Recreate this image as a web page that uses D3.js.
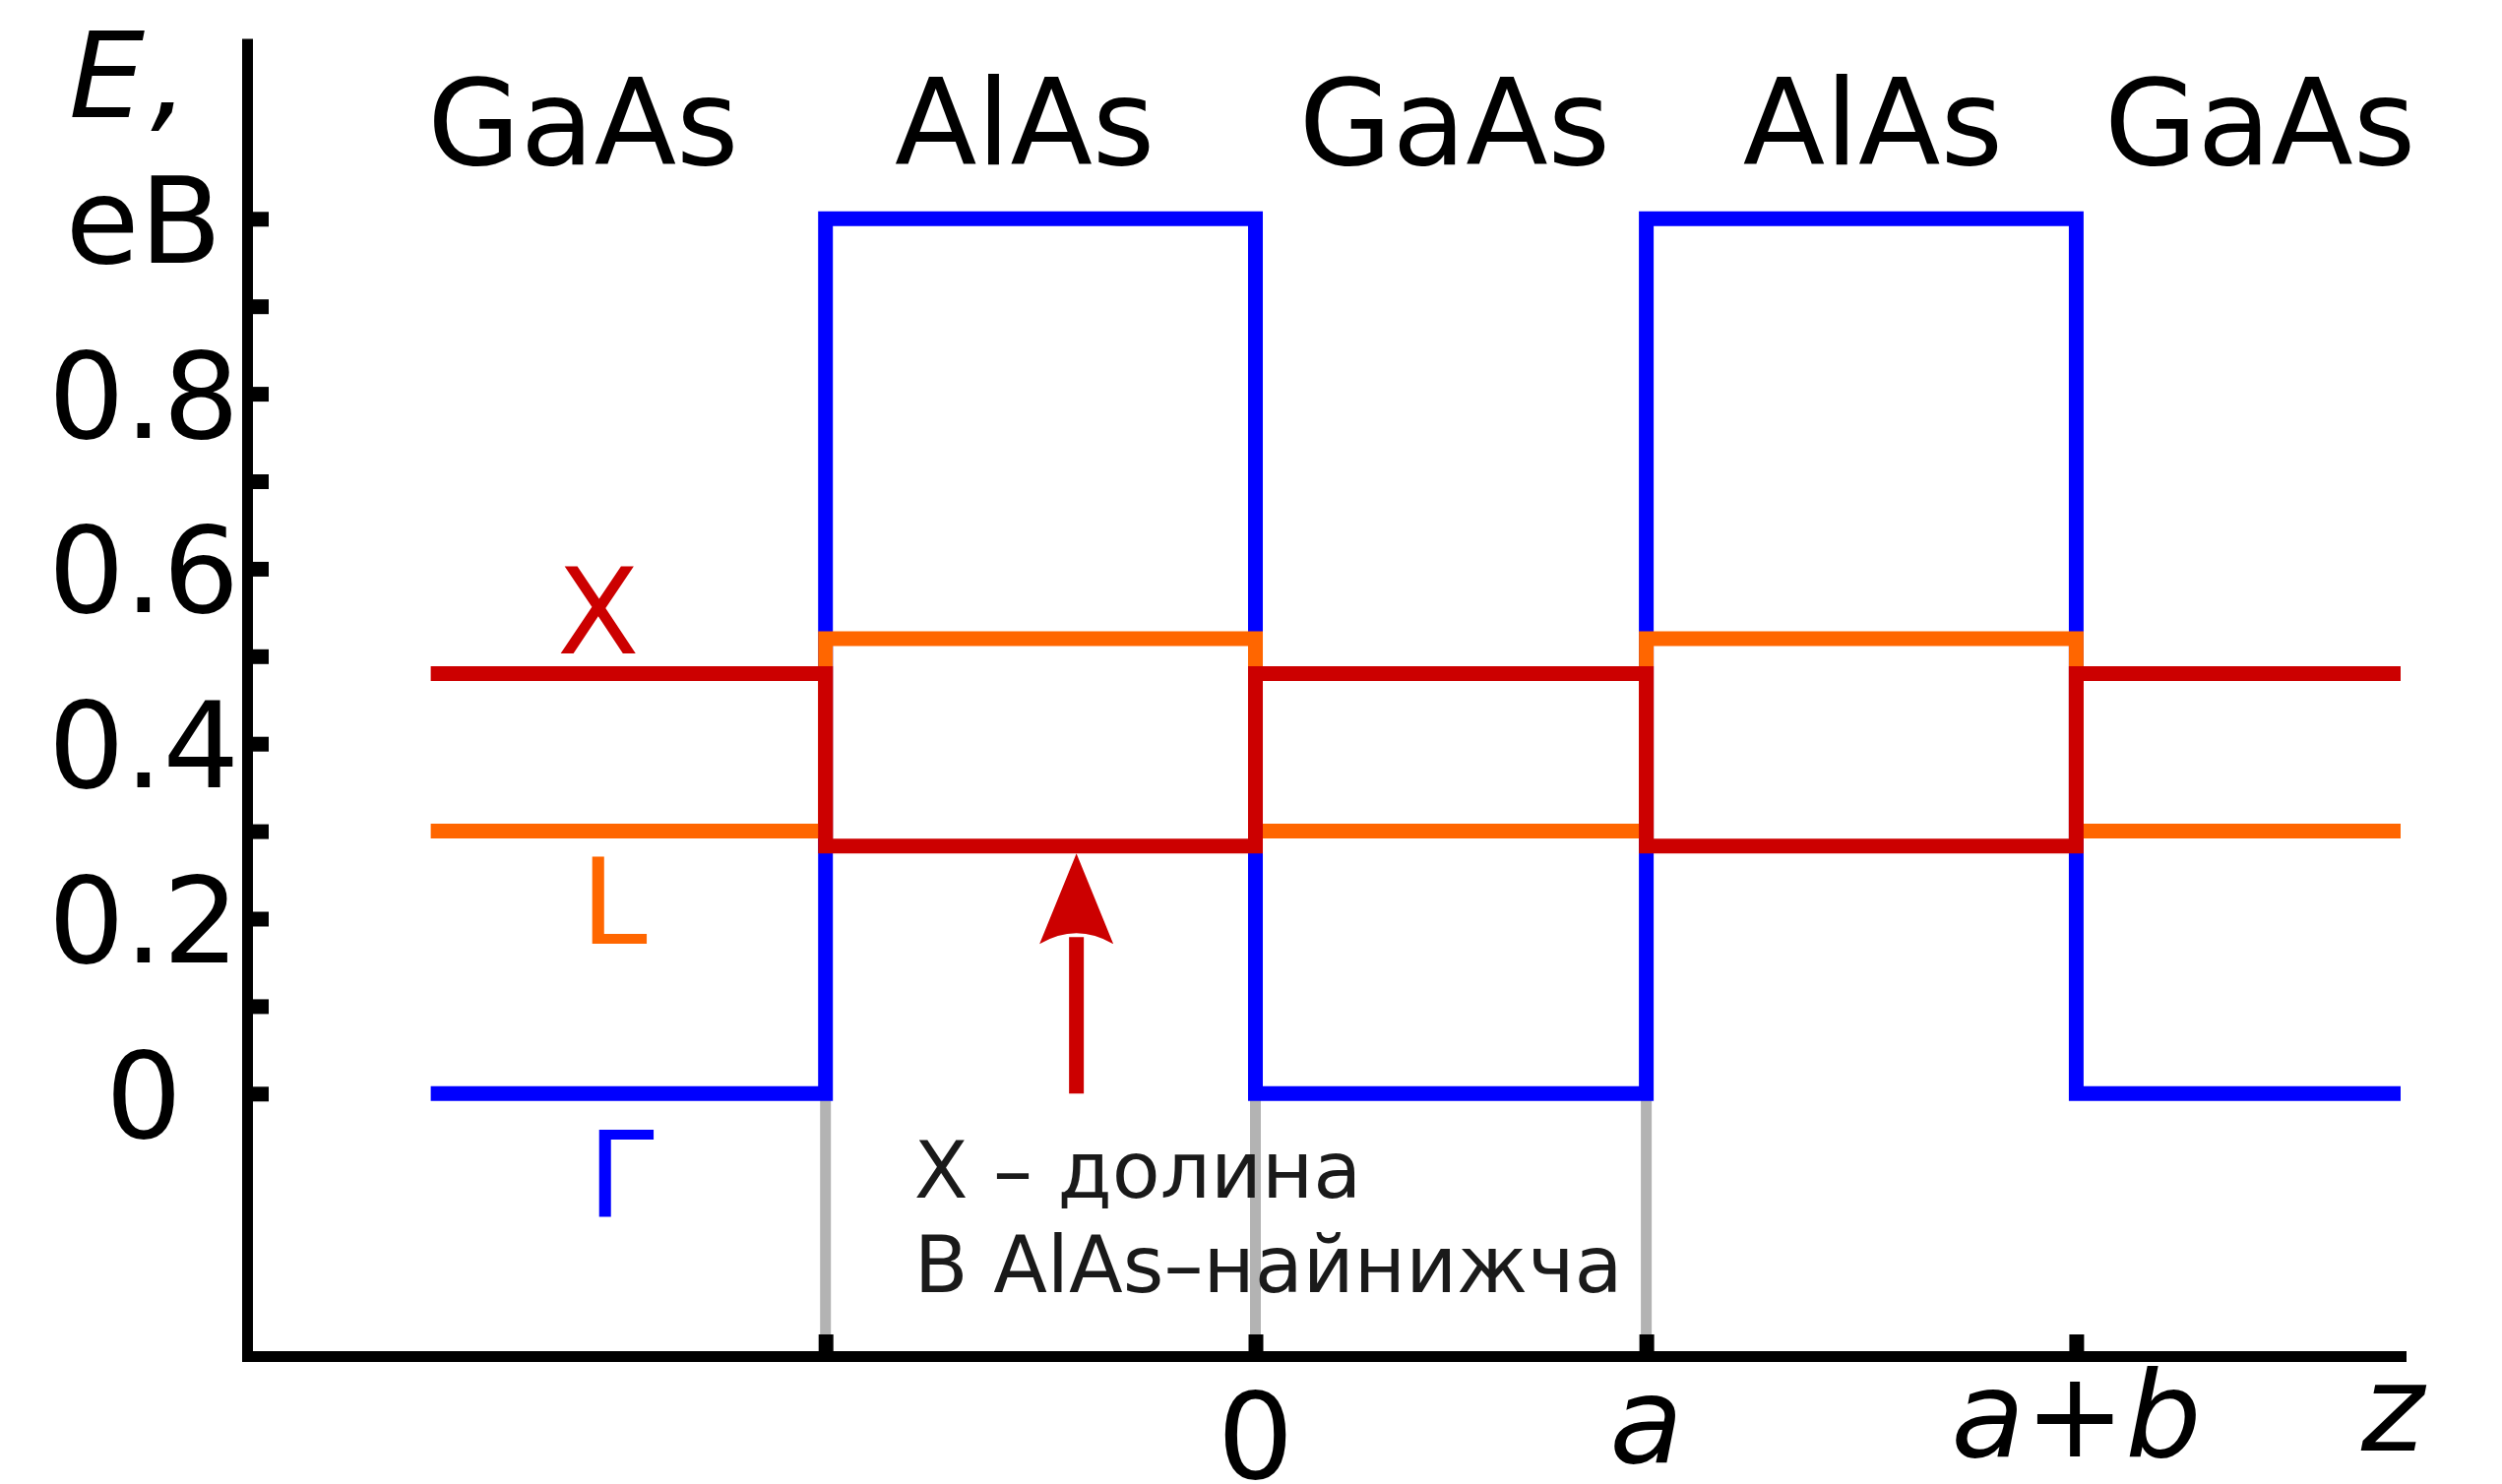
<!DOCTYPE html>
<html><head><meta charset="utf-8">
<script src="https://cdn.jsdelivr.net/npm/d3@7"></script>
<style>html,body{margin:0;padding:0;background:#fff;} svg{display:block;}</style>
</head><body>
<script>
// ---------------- data ----------------
const boundaries = [-2.11, -1.1, 0, 1, 2.1, 2.93];          // layer edges along z
const layers = ["GaAs", "AlAs", "GaAs", "AlAs", "GaAs"];    // material of each layer
const layerLabelPos = [-1.72, -0.59, 0.51, 1.58, 2.57];     // z position of layer names
const bandNames = ["Γ", "L", "X"];
const bandGaAs = [0, 0.30, 0.48];                           // eV in GaAs
const bandAlAs = [1.0, 0.52, 0.283];                        // eV in AlAs
const bandColors = ["#0000ff", "#ff6600", "#cc0000"];
const bandLabelPos = [[-1.709, -0.14], [-1.727, 0.171], [-1.787, 0.503]];
const yTicks = [0, 0.1, 0.2, 0.3, 0.4, 0.5, 0.6, 0.7, 0.8, 0.9, 1.0];
const yTickLabels = [[0, "0"], [0.2, "0.2"], [0.4, "0.4"], [0.6, "0.6"], [0.8, "0.8"], [1.0, "eB"]];
const xTicks = [-1.1, 0, 1, 2.1];
const guideLines = [-1.1, 0, 1];
const xTickLabels = [
  {u: 0,    parts: [["0", false]], dy: 124},
  {u: 1,    parts: [["a", true]], dy: 108},
  {u: 2.1,  parts: [["a", true], ["+", false], ["b", true]], dy: 102},
  {u: 2.91, parts: [["z", true]], dy: 96}
];
const arrowZ = -0.458;
const noteLines = ["X – долина", "В AlAs–найнижча"];
const notePos = [[-0.873, -0.119], [-0.873, -0.227]];

// ---------------- drawing ----------------
const W = 2542, H = 1508;
const FONT = "DejaVu Sans";
const svg = d3.select("body").append("svg").attr("width", W).attr("height", H)
  .style("font-family", FONT);

const x = d3.scaleLinear().domain([-2.58, 2.93]).range([251, 2439]);
const y = d3.scaleLinear().domain([-0.3, 1.2]).range([1378, 44.5]);

// grey guide lines
svg.append("g").selectAll("line").data(guideLines).join("line")
  .attr("x1", d => x(d)).attr("x2", d => x(d))
  .attr("y1", y(0)).attr("y2", y(-0.3))
  .attr("stroke", "#b3b3b3").attr("stroke-width", 11);

// band profiles
const line = d3.line().x(d => x(d[0])).y(d => y(d[1]));
bandNames.forEach((name, i) => {
  const pts = [];
  layers.forEach((m, k) => {
    const v = m === "GaAs" ? bandGaAs[i] : bandAlAs[i];
    pts.push([boundaries[k], v], [boundaries[k + 1], v]);
  });
  svg.append("path").attr("d", line(pts))
    .attr("fill", "none").attr("stroke", bandColors[i])
    .attr("stroke-width", 15).attr("stroke-linejoin", "miter").attr("stroke-linecap", "butt");
  svg.append("text").attr("x", x(bandLabelPos[i][0])).attr("y", y(bandLabelPos[i][1]))
    .attr("font-size", 122).attr("fill", bandColors[i]).text(name);
});

// arrow
{
  const x0 = x(arrowZ);
  const yt = y(bandAlAs[2]) + 7.5;
  svg.append("line").attr("x1", x0).attr("x2", x0).attr("y1", y(0)).attr("y2", yt + 85)
    .attr("stroke", "#cc0000").attr("stroke-width", 15);
  svg.append("path")
    .attr("d", `M${x0},${yt} L${x0 + 37.5},${yt + 92} Q${x0},${yt + 70} ${x0 - 37.5},${yt + 92} Z`)
    .attr("fill", "#cc0000");
}

// axes
const yAxis = svg.append("g").attr("transform", `translate(${x.range()[0]},0)`)
  .call(d3.axisLeft(y).tickValues(yTicks).tickSize(-22).tickSizeOuter(0).tickFormat(""));
const xAxis = svg.append("g").attr("transform", `translate(0,${y.range()[0]})`)
  .call(d3.axisBottom(x).tickValues(xTicks).tickSize(-22).tickSizeOuter(0).tickFormat(""));
[yAxis, xAxis].forEach(g => {
  g.select(".domain").attr("stroke", "#000").attr("stroke-width", 11).attr("stroke-linecap", "square");
  g.selectAll(".tick line").attr("stroke", "#000").attr("stroke-width", 15);
});

// y tick labels
svg.append("g").selectAll("text").data(yTickLabels).join("text")
  .attr("x", 146).attr("y", d => y(d[0]) + 44.5)
  .attr("text-anchor", "middle").attr("font-size", 122).attr("fill", "#000")
  .text(d => d[1]);

// axis title E,
svg.append("text").attr("x", 70).attr("y", 119).attr("font-size", 122)
  .call(t => {
    t.append("tspan").attr("font-style", "italic").text("E");
    t.append("tspan").attr("font-style", "italic").attr("dx", 6).text(",");
  });

// x tick labels
xTickLabels.forEach(l => {
  const t = svg.append("text").attr("x", x(l.u)).attr("y", y.range()[0] + l.dy)
    .attr("text-anchor", "middle").attr("font-size", 122);
  l.parts.forEach(p => t.append("tspan").attr("font-style", p[1] ? "italic" : "normal").text(p[0]));
});

// layer names
svg.append("g").selectAll("text").data(layers).join("text")
  .attr("x", (d, i) => x(layerLabelPos[i])).attr("y", 167)
  .attr("text-anchor", "middle").attr("font-size", 122).text(d => d);

// note
svg.append("g").selectAll("text").data(noteLines).join("text")
  .attr("x", (d, i) => x(notePos[i][0])).attr("y", (d, i) => y(notePos[i][1]))
  .attr("font-size", 80).attr("fill", "#1a1a1a").text(d => d);
</script>
</body></html>
